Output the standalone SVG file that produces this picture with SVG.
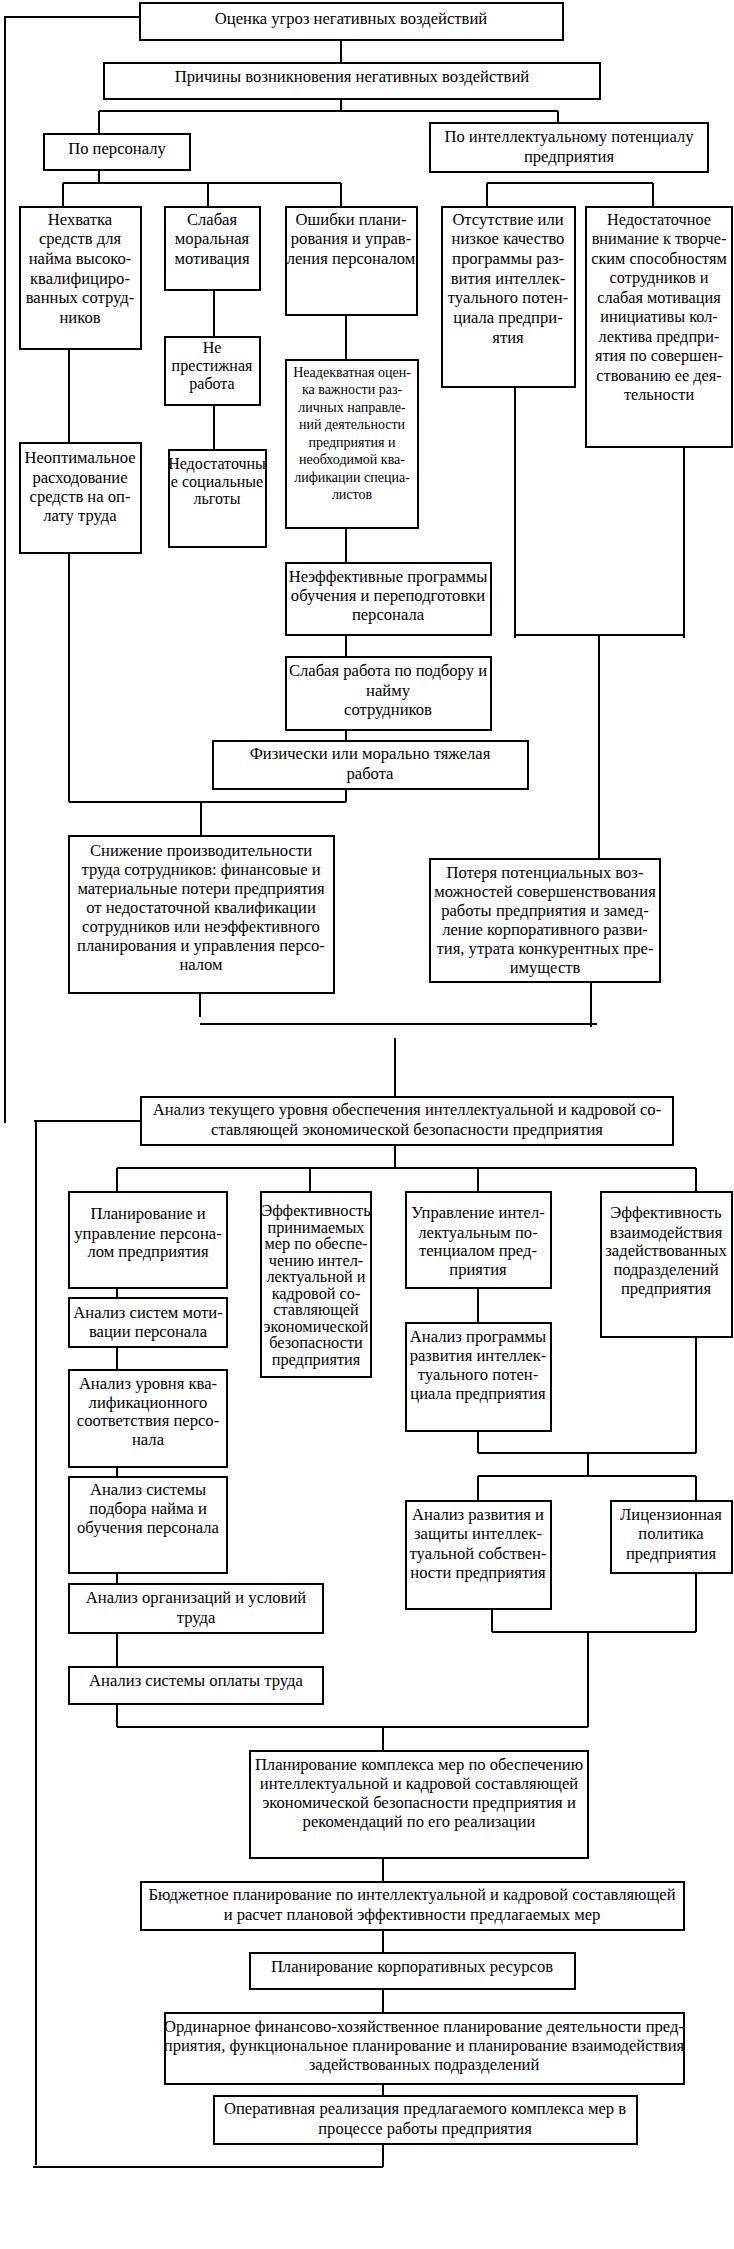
<svg xmlns="http://www.w3.org/2000/svg" width="734" height="2249" viewBox="0 0 734 2249">
<style>
rect{fill:#fff;stroke:#000;stroke-width:2}
text{font-family:"Liberation Serif","Times New Roman",serif;font-size:16.6px;text-anchor:middle;dominant-baseline:central;fill:#000}
.s{font-size:14px}
.m{font-size:16px}
.e{font-size:16.3px}
.n9 text{font-size:16.3px}
#conn path{fill:none;stroke:#000;stroke-width:2}
</style>
<rect x="0" y="0" width="734" height="2249" style="fill:#fff;stroke:none"/>
<g id="conn">
<path d="M140,17 H5 V1123"/>
<path d="M341,40 V63"/>
<path d="M341,99 V111 M99,111 H558 M99,111 V134 M558,111 V123"/>
<path d="M99,170 V183 M63,183 H341 M63,183 V207 M208,183 V207 M341,183 V207"/>
<path d="M487,183 H653 M487,183 V207 M653,183 V207"/>
<path d="M69,349 V443"/>
<path d="M214,290 V337 M214,405 V450"/>
<path d="M346,315 V360 M346,528 V563 M346,635 V657 M346,730 V741 M346,789 V802"/>
<path d="M69,553 V802 M69,802 H346 M201,802 V836"/>
<path d="M515,387 V638 M684,447 V638 M515,635 H684 M599,635 V859"/>
<path d="M200,993 V1017 M591,978 V1027 M200,1024 H597"/>
<path d="M395,1038 V1097"/>
<path d="M141,1121 H34 M36,1121 V2165 M33,2167 H383 M383,2144 V2167"/>
<path d="M395,1145 V1168 M117,1168 H696 M117,1168 V1192 M310,1168 V1192 M478,1168 V1192 M696,1168 V1192"/>
<path d="M117,1288 V1298 M117,1347 V1370 M117,1467 V1477 M117,1573 V1584 M117,1633 V1667 M117,1704 V1727"/>
<path d="M478,1288 V1323 M478,1431 V1453 M478,1453 H696 M696,1337 V1453 M588,1453 V1476 M478,1476 H696 M478,1476 V1501 M696,1476 V1501"/>
<path d="M492,1609 V1632 M696,1573 V1632 M492,1632 H696 M588,1632 V1727 M117,1727 H588"/>
<path d="M383,1727 V1751 M383,1858 V1882 M383,1930 V1953 M383,1989 V2013 M383,2084 V2096"/>
</g>
<g id="n1"><rect x="140" y="3" width="423" height="37"/><text x="351" y="18">Оценка угроз негативных воздействий</text></g>
<g id="n2"><rect x="104" y="63" width="496" height="36"/><text x="352" y="76">Причины возникновения негативных воздействий</text></g>
<g id="n3"><rect x="44" y="134" width="146" height="36"/><text x="117" y="148">По персоналу</text></g>
<g id="n4"><rect x="430" y="123" width="278" height="49"/><text x="569" y="136">По интеллектуальному потенциалу</text><text x="569" y="156">предприятия</text></g>
<g id="n5"><rect x="20" y="207" width="121" height="142"/><text x="80" y="219">Нехватка</text><text x="80" y="238">средств для</text><text x="80" y="258">найма высоко-</text><text x="80" y="278">квалифициро-</text><text x="80" y="297">ванных сотруд-</text><text x="80" y="317">ников</text></g>
<g id="n6"><rect x="165" y="207" width="95" height="83"/><text x="212" y="219">Слабая</text><text x="212" y="238">моральная</text><text x="212" y="258">мотивация</text></g>
<g id="n7"><rect x="286" y="207" width="131" height="108"/><text x="351" y="219">Ошибки плани-</text><text x="351" y="238">рования и управ-</text><text x="351" y="258">ления персоналом</text></g>
<g id="n8"><rect x="442" y="207" width="133" height="180"/><text x="508" y="219">Отсутствие или</text><text x="508" y="238">низкое качество</text><text x="508" y="258">программы раз-</text><text x="508" y="278">вития интеллек-</text><text x="508" y="297">туального потен-</text><text x="508" y="317">циала предпри-</text><text x="508" y="337">ятия</text></g>
<g id="n9" class="n9"><rect x="586" y="207" width="146" height="240"/><text x="659" y="219">Недостаточное</text><text x="659" y="238">внимание к творче-</text><text x="659" y="258">ским способностям</text><text x="659" y="277">сотрудников и</text><text x="659" y="297">слабая мотивация</text><text x="659" y="316">инициативы кол-</text><text x="659" y="336">лектива предпри-</text><text x="659" y="355">ятия по совершен-</text><text x="659" y="375">ствованию ее дея-</text><text x="659" y="394">тельности</text></g>
<g id="n10"><rect x="165" y="337" width="95" height="68"/><text class="m" x="212" y="347">Не</text><text class="m" x="212" y="365">престижная</text><text class="m" x="212" y="383">работа</text></g>
<g id="n11"><rect x="286" y="360" width="132" height="168"/><text class="s" x="352" y="372">Неадекватная оцен-</text><text class="s" x="352" y="389">ка важности раз-</text><text class="s" x="352" y="407">личных направле-</text><text class="s" x="352" y="424">ний деятельности</text><text class="s" x="352" y="442">предприятия и</text><text class="s" x="352" y="459">необходимой ква-</text><text class="s" x="352" y="477">лификации специа-</text><text class="s" x="352" y="494">листов</text></g>
<g id="n12"><rect x="169" y="450" width="97" height="97"/><text class="m" x="217" y="463">Недостаточны</text><text class="m" x="217" y="481">е социальные</text><text class="m" x="217" y="498">льготы</text></g>
<g id="n13"><rect x="20" y="443" width="121" height="110"/><text x="80" y="457">Неоптимальное</text><text x="80" y="477">расходование</text><text x="80" y="496">средств на оп-</text><text x="80" y="515">лату труда</text></g>
<g id="n14"><rect x="286" y="563" width="205" height="72"/><text x="388" y="576">Неэффективные программы</text><text x="388" y="595">обучения и переподготовки</text><text x="388" y="614">персонала</text></g>
<g id="n15"><rect x="286" y="657" width="205" height="73"/><text x="388" y="670">Слабая работа по подбору и</text><text x="388" y="690">найму</text><text x="388" y="709">сотрудников</text></g>
<g id="n16"><rect x="213" y="741" width="315" height="48"/><text x="370" y="753">Физически или морально тяжелая</text><text x="370" y="773">работа</text></g>
<g id="n17"><rect x="69" y="836" width="265" height="157"/><text x="201" y="850">Снижение производительности</text><text x="201" y="869">труда сотрудников: финансовые и</text><text x="201" y="888">материальные потери предприятия</text><text x="201" y="907">от недостаточной квалификации</text><text x="201" y="926">сотрудников или неэффективного</text><text x="201" y="945">планирования и управления персо-</text><text x="201" y="964">налом</text></g>
<g id="n18"><rect x="430" y="859" width="230" height="123"/><text x="545" y="872">Потеря потенциальных воз-</text><text x="545" y="891">можностей совершенствования</text><text x="545" y="910">работы предприятия и замед-</text><text x="545" y="929">ление корпоративного разви-</text><text x="545" y="948">тия, утрата конкурентных пре-</text><text x="545" y="967">имуществ</text></g>
<g id="n19"><rect x="141" y="1097" width="532" height="48"/><text x="407" y="1109">Анализ текущего уровня обеспечения интеллектуальной и кадровой со-</text><text x="407" y="1129">ставляющей экономической безопасности предприятия</text></g>
<g id="n20"><rect x="69" y="1192" width="158" height="96"/><text x="148" y="1213">Планирование и</text><text x="148" y="1233">управление персона-</text><text x="148" y="1251">лом предприятия</text></g>
<g id="n21"><rect x="261" y="1192" width="110" height="185"/><text class="e" x="316" y="1210">Эффективность</text><text class="e" x="316" y="1227">принимаемых</text><text class="e" x="316" y="1243">мер по обеспе-</text><text class="e" x="316" y="1260">чению интел-</text><text class="e" x="316" y="1276">лектуальной и</text><text class="e" x="316" y="1293">кадровой со-</text><text class="e" x="316" y="1309">ставляющей</text><text class="e" x="316" y="1326">экономической</text><text class="e" x="316" y="1342">безопасности</text><text class="e" x="316" y="1359">предприятия</text></g>
<g id="n22"><rect x="406" y="1192" width="145" height="96"/><text x="478" y="1212">Управление интел-</text><text x="478" y="1232">лектуальным по-</text><text x="478" y="1250">тенциалом пред-</text><text x="478" y="1269">приятия</text></g>
<g id="n23"><rect x="601" y="1192" width="131" height="145"/><text x="666" y="1212">Эффективность</text><text x="666" y="1232">взаимодействия</text><text x="666" y="1250">задействованных</text><text x="666" y="1269">подразделений</text><text x="666" y="1288">предприятия</text></g>
<g id="n24"><rect x="69" y="1298" width="158" height="49"/><text x="148" y="1312">Анализ систем моти-</text><text x="148" y="1331">вации персонала</text></g>
<g id="n25"><rect x="406" y="1323" width="145" height="108"/><text x="478" y="1336">Анализ программы</text><text x="478" y="1355">развития интеллек-</text><text x="478" y="1374">туального потен-</text><text x="478" y="1393">циала предприятия</text></g>
<g id="n26"><rect x="69" y="1370" width="158" height="97"/><text x="148" y="1383">Анализ уровня ква-</text><text x="148" y="1402">лификационного</text><text x="148" y="1420">соответствия персо-</text><text x="148" y="1439">нала</text></g>
<g id="n27"><rect x="69" y="1477" width="158" height="96"/><text x="148" y="1489">Анализ системы</text><text x="148" y="1508">подбора найма и</text><text x="148" y="1527">обучения персонала</text></g>
<g id="n28"><rect x="406" y="1501" width="145" height="108"/><text x="478" y="1514">Анализ развития и</text><text x="478" y="1533">защиты интеллек-</text><text x="478" y="1553">туальной собствен-</text><text x="478" y="1572">ности предприятия</text></g>
<g id="n29"><rect x="611" y="1501" width="121" height="72"/><text x="671" y="1514">Лицензионная</text><text x="671" y="1533">политика</text><text x="671" y="1553">предприятия</text></g>
<g id="n30"><rect x="69" y="1584" width="254" height="49"/><text x="196" y="1597">Анализ организаций и условий</text><text x="196" y="1617">труда</text></g>
<g id="n31"><rect x="69" y="1667" width="254" height="37"/><text x="196" y="1680">Анализ системы оплаты труда</text></g>
<g id="n32"><rect x="250" y="1751" width="338" height="107"/><text x="419" y="1764">Планирование комплекса мер по обеспечению</text><text x="419" y="1783">интеллектуальной и кадровой составляющей</text><text x="419" y="1802">экономической безопасности предприятия и</text><text x="419" y="1821">рекомендаций по его реализации</text></g>
<g id="n33"><rect x="141" y="1882" width="543" height="48"/><text x="412" y="1894">Бюджетное планирование по интеллектуальной и кадровой составляющей</text><text x="412" y="1914">и расчет плановой эффективности предлагаемых мер</text></g>
<g id="n34"><rect x="250" y="1953" width="325" height="36"/><text x="412" y="1966">Планирование корпоративных ресурсов</text></g>
<g id="n35"><rect x="165" y="2013" width="519" height="71"/><text x="424" y="2026">Ординарное финансово-хозяйственное планирование деятельности пред-</text><text x="424" y="2045">приятия, функциональное планирование и планирование взаимодействия</text><text x="424" y="2064">задействованных подразделений</text></g>
<g id="n36"><rect x="214" y="2096" width="423" height="48"/><text x="425" y="2108">Оперативная реализация предлагаемого комплекса мер в</text><text x="425" y="2128">процессе работы предприятия</text></g>
</svg>
